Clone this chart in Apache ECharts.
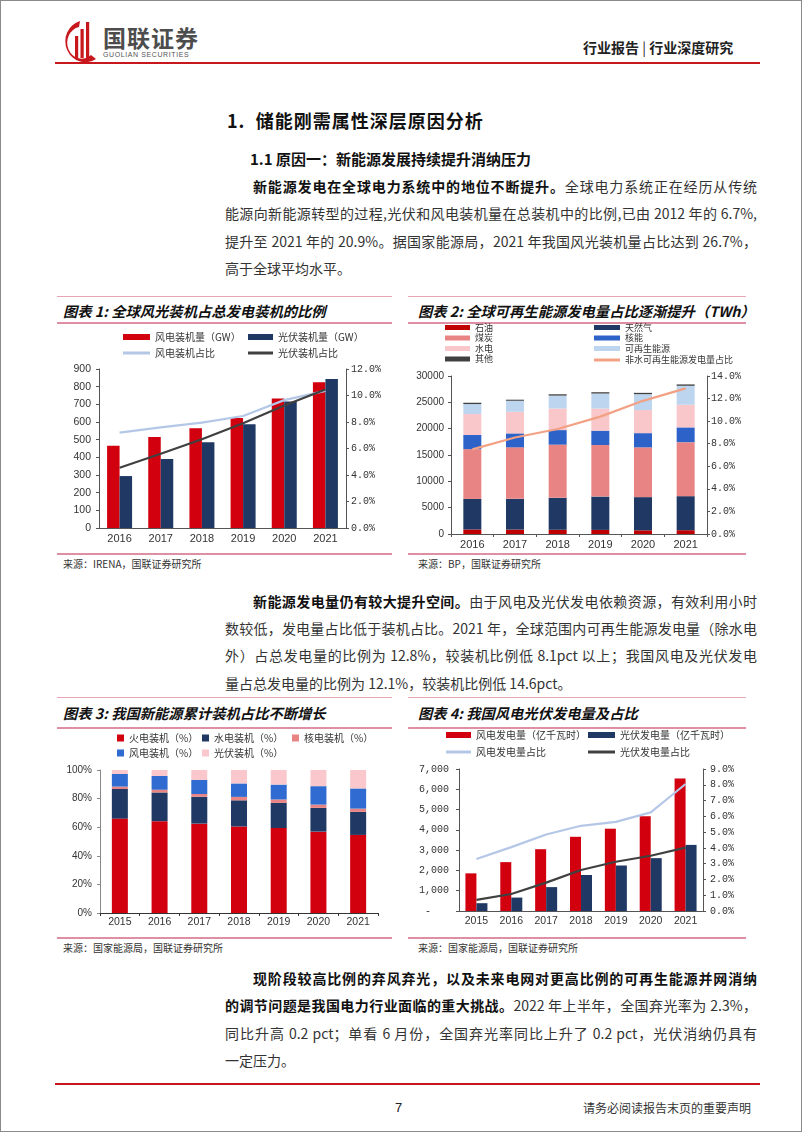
<!DOCTYPE html>
<html><head><meta charset="utf-8">
<script src="https://cdn.jsdelivr.net/npm/echarts@6/dist/echarts.min.js"></script>
<style>
body{margin:0;background:#fff;}
#page{position:relative;width:802px;height:1133px;overflow:hidden;font-family:"Noto Sans CJK SC",sans-serif;color:#333;background:#fff;}
.a{position:absolute;white-space:nowrap;}
.jl{position:absolute;left:225px;width:532px;height:28px;line-height:28px;font-size:14px;text-align:justify;text-align-last:justify;white-space:nowrap;color:#333;}
.jl.ind{left:253px;width:504px;}
.jl.last{text-align:left;text-align-last:left;}
.jl b{color:#111;font-weight:700;}
.ttl{position:absolute;font-size:14.3px;font-weight:700;font-style:italic;color:#111;white-space:nowrap;line-height:20px;}
.pl{position:absolute;height:0;border-top:1px solid #E7A6B6;}
.pl2{position:absolute;height:0;border-top:2px solid #DE8FA3;}
.src{position:absolute;font-size:10px;color:#333;white-space:nowrap;line-height:14px;}
.chart{position:absolute;}
</style></head>
<body><div id="page">
<div class="a" style="left:0;top:0;width:800px;height:1130px;border:1px solid #8a8a8a;"></div>

<!-- header -->
<svg class="a" style="left:58px;top:18px" width="42" height="46" viewBox="0 0 42 46">
  <path d="M22 3 A20 21 0 1 0 38 41 L33 37 A14.5 16 0 1 1 21 9 Z" fill="#C8161D"/>
  <rect x="17" y="18" width="3.2" height="22" fill="#C8161D"/>
  <rect x="22.5" y="11" width="3.2" height="29" fill="#C8161D"/>
  <rect x="28" y="4" width="3.2" height="36" fill="#C8161D"/>
</svg>
<div class="a" style="left:103px;top:24px;font-size:23px;font-weight:700;color:#4d4d4d;letter-spacing:1px;line-height:26px;">国联证券</div>
<div class="a" style="left:103px;top:51px;font-size:7px;color:#555;letter-spacing:0.6px;line-height:8px;font-family:'Liberation Sans',Arial,sans-serif;">GUOLIAN SECURITIES</div>
<div class="a" style="left:583px;top:38px;font-size:14px;font-weight:700;color:#222;line-height:18px;">行业报告 <span style="font-weight:400;">|</span> 行业深度研究</div>
<div class="a" style="left:55px;top:62px;width:705px;height:0;border-top:2px solid #C8161D;"></div>

<!-- headings -->
<div class="a" style="left:227px;top:108px;font-size:18px;font-weight:700;color:#111;line-height:24px;letter-spacing:1px;">1.&nbsp; 储能刚需属性深层原因分析</div>
<div class="a" style="left:250px;top:149px;font-size:15px;font-weight:700;color:#111;line-height:20px;">1.1 原因一：新能源发展持续提升消纳压力</div>

<!-- paragraph 1 -->
<div class="jl ind" style="top:172px"><b>新能源发电在全球电力系统中的地位不断提升。</b>全球电力系统正在经历从传统</div>
<div class="jl" style="top:199px">能源向新能源转型的过程,光伏和风电装机量在总装机中的比例,已由 2012 年的 6.7%,</div>
<div class="jl" style="top:227px">提升至 2021 年的 20.9%。据国家能源局，2021 年我国风光装机量占比达到 26.7%，</div>
<div class="jl last" style="top:254px">高于全球平均水平。</div>

<!-- chart 1 frame -->
<div class="pl" style="left:57px;top:296px;width:335px;"></div>
<div class="ttl" style="left:63px;top:301px;">图表 1: 全球风光装机占总发电装机的比例</div>
<div class="pl2" style="left:57px;top:322px;width:335px;"></div>
<div class="pl2" style="left:57px;top:553px;width:335px;"></div>
<div class="src" style="left:63px;top:557px;">来源：IRENA，国联证券研究所</div>
<div id="c1" class="chart" style="left:40px;top:320px;width:352px;height:232px;"></div>

<!-- chart 2 frame -->
<div class="pl" style="left:408px;top:296px;width:338px;"></div>
<div class="ttl" style="left:418px;top:301px;">图表 2: 全球可再生能源发电量占比逐渐提升（TWh）</div>
<div class="pl2" style="left:408px;top:322px;width:338px;"></div>
<div class="pl2" style="left:408px;top:553px;width:338px;"></div>
<div class="src" style="left:418px;top:557px;">来源：BP，国联证券研究所</div>
<div id="c2" class="chart" style="left:405px;top:320px;width:352px;height:232px;"></div>

<!-- paragraph 2 -->
<div class="jl ind" style="top:587px"><b>新能源发电量仍有较大提升空间。</b>由于风电及光伏发电依赖资源，有效利用小时</div>
<div class="jl" style="top:614px">数较低，发电量占比低于装机占比。2021 年，全球范围内可再生能源发电量（除水电</div>
<div class="jl" style="top:641px">外）占总发电量的比例为 12.8%，较装机比例低 8.1pct 以上；我国风电及光伏发电</div>
<div class="jl last" style="top:669px">量占总发电量的比例为 12.1%，较装机比例低 14.6pct。</div>

<!-- chart 3 frame -->
<div class="pl" style="left:57px;top:697px;width:335px;"></div>
<div class="ttl" style="left:63px;top:703px;">图表 3: 我国新能源累计装机占比不断增长</div>
<div class="pl2" style="left:57px;top:727px;width:335px;"></div>
<div class="pl2" style="left:57px;top:937px;width:335px;"></div>
<div class="src" style="left:63px;top:941px;">来源：国家能源局，国联证券研究所</div>
<div id="c3" class="chart" style="left:40px;top:725px;width:352px;height:210px;"></div>

<!-- chart 4 frame -->
<div class="pl" style="left:408px;top:697px;width:338px;"></div>
<div class="ttl" style="left:418px;top:703px;">图表 4: 我国风电光伏发电量及占比</div>
<div class="pl2" style="left:408px;top:727px;width:338px;"></div>
<div class="pl2" style="left:408px;top:937px;width:338px;"></div>
<div class="src" style="left:418px;top:941px;">来源：国家能源局，国联证券研究所</div>
<div id="c4" class="chart" style="left:405px;top:725px;width:352px;height:210px;"></div>

<!-- paragraph 3 -->
<div class="jl ind" style="top:964px"><b>现阶段较高比例的弃风弃光，以及未来电网对更高比例的可再生能源并网消纳</b></div>
<div class="jl" style="top:991px"><b>的调节问题是我国电力行业面临的重大挑战。</b>2022 年上半年，全国弃光率为 2.3%，</div>
<div class="jl" style="top:1019px">同比升高 0.2 pct；单看 6 月份，全国弃光率同比上升了 0.2 pct，光伏消纳仍具有</div>
<div class="jl last" style="top:1046px">一定压力。</div>

<!-- footer -->
<div class="a" style="left:55px;top:1083px;width:705px;height:0;border-top:2px solid #C8161D;"></div>
<div class="a" style="left:395px;top:1099px;font-size:13px;color:#222;line-height:18px;font-family:'Liberation Sans',Arial,sans-serif;">7</div>
<div class="a" style="left:583px;top:1100px;font-size:12px;color:#333;line-height:16px;">请务必阅读报告末页的重要声明</div>
</div>

<script>
// ---------- data ----------
const c1Years = ['2016','2017','2018','2019','2020','2021'];
const c1Wind = [466, 515, 564, 622, 733, 825];
const c1Solar = [294, 390, 485, 587, 716, 843];
const c1WindShare = [7.2, 7.6, 7.95, 8.45, 9.65, 10.35];
const c1SolarShare = [4.55, 5.6, 6.7, 7.9, 9.25, 10.45];

const c2Years = ['2016','2017','2018','2019','2020','2021'];
const c2Oil = [860, 840, 800, 780, 700, 720];
const c2Gas = [5800, 5840, 6070, 6320, 6300, 6470];
const c2Coal = [9450, 9780, 10100, 9800, 9450, 10250];
const c2Nuclear = [2700, 2640, 2760, 2720, 2700, 2800];
const c2Hydro = [3960, 4100, 4100, 4200, 4380, 4300];
const c2Renew = [1900, 2100, 2450, 2850, 3020, 3600];
const c2Other = [250, 200, 250, 250, 250, 260];
const c2Share = [7.5, 8.55, 9.3, 10.4, 11.8, 12.9];

const c3Years = ['2015','2016','2017','2018','2019','2020','2021'];
const c3Thermal = [66.0, 64.2, 62.5, 60.5, 59.4, 56.9, 54.6];
const c3Hydro = [20.7, 20.1, 18.8, 18.3, 17.6, 16.6, 16.1];
const c3Nuclear = [1.7, 1.9, 1.9, 2.4, 2.4, 2.3, 2.3];
const c3Wind = [8.8, 9.6, 9.8, 9.4, 10.4, 12.9, 14.1];
const c3Solar = [2.8, 4.2, 7.0, 9.4, 10.2, 11.3, 12.9];

const c4Years = ['2015','2016','2017','2018','2019','2020','2021'];
const c4Wind = [1856, 2409, 3046, 3658, 4057, 4665, 6526];
const c4Solar = [385, 662, 1178, 1775, 2243, 2605, 3259];
const c4WindShare = [3.3, 4.05, 4.85, 5.4, 5.65, 6.25, 8.05];
const c4SolarShare = [0.7, 1.08, 1.8, 2.6, 3.12, 3.5, 4.02];

// ---------- style helpers ----------
const F = '"Liberation Sans", Arial, sans-serif';
const FM = '"Liberation Mono", "DejaVu Sans Mono", monospace';
const FC = '"Noto Sans CJK SC", sans-serif';
const RED = '#D2000F', NAVY = '#1F3864';
function leg(name, left, top, iw, ih, fs) {
  return {data:[{name:name, icon:'rect'}], left:left, top:top, itemWidth:iw, itemHeight:ih,
    padding:0, selectedMode:false, textStyle:{fontFamily:FC, fontSize:fs || 10, color:'#333'}};
}
const axLine = {show:true, lineStyle:{color:'#555', width:1}};
const pct1 = v => v.toFixed(1) + '%';

// ---------- chart 1 ----------
echarts.init(document.getElementById('c1')).setOption({
  animation:false,
  legend:[leg('风电装机量（GW）',83,12,27,6), leg('光伏装机量（GW）',208,12,25,6),
          leg('风电装机占比',83,28,27,3), leg('光伏装机占比',208,28,25,3)],
  grid:{left:59, top:49, width:247, height:159},
  xAxis:{type:'category', data:c1Years, axisLine:axLine, axisTick:{show:false},
    axisLabel:{fontFamily:F, fontSize:11, color:'#333', margin:5}},
  yAxis:[
    {type:'value', min:0, max:900, interval:100, splitLine:{show:false}, axisLine:axLine,
     axisTick:{show:true, length:3, lineStyle:{color:'#555'}}, axisLabel:{fontFamily:F, fontSize:10.5, color:'#333', margin:8}},
    {type:'value', min:0, max:12, interval:2, splitLine:{show:false}, axisLine:axLine,
     axisTick:{show:true, length:3, lineStyle:{color:'#555'}}, axisLabel:{fontFamily:FM, fontSize:10, color:'#333', margin:5, formatter:pct1}}
  ],
  series:[
    {name:'风电装机量（GW）', type:'bar', data:c1Wind, barWidth:12.5, barGap:'0%', itemStyle:{color:RED}},
    {name:'光伏装机量（GW）', type:'bar', data:c1Solar, barWidth:12.5, barGap:'0%', itemStyle:{color:NAVY}},
    {name:'风电装机占比', type:'line', yAxisIndex:1, data:c1WindShare, symbol:'none', lineStyle:{color:'#B4C7E7', width:2.2}, itemStyle:{color:'#B4C7E7'}},
    {name:'光伏装机占比', type:'line', yAxisIndex:1, data:c1SolarShare, symbol:'none', lineStyle:{color:'#404040', width:2.2}, itemStyle:{color:'#404040'}}
  ]
});

// ---------- chart 2 ----------
const c2Col = {oil:'#C00000', gas:NAVY, coal:'#E88584', nuc:'#2D62C8', hyd:'#F9C6C9', ren:'#BDD5EE', oth:'#404040', line:'#F2A184'};
function sb(name, data, color) { return {name:name, type:'bar', stack:'t', data:data, barWidth:18, itemStyle:{color:color}}; }
echarts.init(document.getElementById('c2')).setOption({
  animation:false,
  legend:[leg('石油',40,3,25,5,9), leg('煤炭',40,13.5,25,5,9), leg('水电',40,24,25,5,9), leg('其他',40,34.5,25,5,9),
          leg('天然气',189,3,26,5,9), leg('核能',189,13.5,26,5,9), leg('可再生能源',189,24,26,5,9), leg('非水可再生能源发电量占比',189,35.5,26,3,9)],
  grid:{left:46, top:56, width:256, height:158},
  xAxis:{type:'category', data:c2Years, axisLine:axLine, axisTick:{show:true, length:3, lineStyle:{color:'#555'}},
    axisLabel:{fontFamily:F, fontSize:11, color:'#333', margin:5}},
  yAxis:[
    {type:'value', min:0, max:30000, interval:5000, splitLine:{show:false}, axisLine:axLine,
     axisTick:{show:true, length:3, lineStyle:{color:'#555'}}, axisLabel:{fontFamily:F, fontSize:10, color:'#333', margin:7, formatter:v => String(v)}},
    {type:'value', min:0, max:14, interval:2, splitLine:{show:false}, axisLine:axLine,
     axisTick:{show:true, length:3, lineStyle:{color:'#555'}}, axisLabel:{fontFamily:FM, fontSize:10, color:'#333', margin:4, formatter:pct1}}
  ],
  series:[
    sb('石油', c2Oil, c2Col.oil), sb('天然气', c2Gas, c2Col.gas), sb('煤炭', c2Coal, c2Col.coal),
    sb('核能', c2Nuclear, c2Col.nuc), sb('水电', c2Hydro, c2Col.hyd), sb('可再生能源', c2Renew, c2Col.ren),
    sb('其他', c2Other, c2Col.oth),
    {name:'非水可再生能源发电量占比', type:'line', yAxisIndex:1, data:c2Share, symbol:'none', lineStyle:{color:c2Col.line, width:2.2}, itemStyle:{color:c2Col.line}}
  ]
});

// ---------- chart 3 ----------
function sb3(name, data, color) { return {name:name, type:'bar', stack:'t', data:data, barWidth:16, itemStyle:{color:color}}; }
echarts.init(document.getElementById('c3')).setOption({
  animation:false,
  legend:[leg('火电装机（%）',77,8,7,7), leg('水电装机（%）',162,8,7,7), leg('核电装机（%）',252,8,7,7),
          leg('风电装机（%）',77,23,7,7), leg('光伏装机（%）',162,23,7,7)],
  grid:{left:60, top:45, width:278, height:143},
  xAxis:{type:'category', data:c3Years, axisLine:{show:true, lineStyle:{color:'#333'}}, axisTick:{show:true, length:3, lineStyle:{color:'#333'}},
    axisLabel:{fontFamily:F, fontSize:10.5, color:'#333', margin:4}},
  yAxis:{type:'value', min:0, max:100, interval:20, splitLine:{show:false}, axisLine:{show:true, lineStyle:{color:'#888'}},
    axisTick:{show:true, length:3, lineStyle:{color:'#888'}}, axisLabel:{fontFamily:F, fontSize:10, color:'#333', margin:8, formatter:'{value}%'}},
  series:[
    sb3('火电装机（%）', c3Thermal, RED), sb3('水电装机（%）', c3Hydro, NAVY), sb3('核电装机（%）', c3Nuclear, '#E88584'),
    sb3('风电装机（%）', c3Wind, '#2F6BD0'), sb3('光伏装机（%）', c3Solar, '#FAC8CC')
  ]
});

// ---------- chart 4 ----------
echarts.init(document.getElementById('c4')).setOption({
  animation:false,
  legend:[leg('风电发电量（亿千瓦时）',41,5,25,6), leg('光伏发电量（亿千瓦时）',183,5,27,6),
          leg('风电发电量占比',41,22,25,3), leg('光伏发电量占比',183,22,27,3)],
  grid:{left:54, top:44, width:244, height:142},
  xAxis:{type:'category', data:c4Years, axisLine:axLine, axisTick:{show:false},
    axisLabel:{fontFamily:F, fontSize:10.5, color:'#333', margin:5}},
  yAxis:[
    {type:'value', min:0, max:7000, interval:1000, splitLine:{show:false}, axisLine:axLine,
     axisTick:{show:true, length:3, lineStyle:{color:'#555'}},
     axisLabel:{fontFamily:FM, fontSize:10, color:'#333', margin:10, formatter:v => v === 0 ? '-   ' : v.toLocaleString('en-US')}},
    {type:'value', min:0, max:9, interval:1, splitLine:{show:false}, axisLine:axLine,
     axisTick:{show:true, length:3, lineStyle:{color:'#555'}}, axisLabel:{fontFamily:FM, fontSize:10, color:'#333', margin:7, formatter:pct1}}
  ],
  series:[
    {name:'风电发电量（亿千瓦时）', type:'bar', data:c4Wind, barWidth:11, barGap:'0%', itemStyle:{color:RED}},
    {name:'光伏发电量（亿千瓦时）', type:'bar', data:c4Solar, barWidth:11, barGap:'0%', itemStyle:{color:NAVY}},
    {name:'风电发电量占比', type:'line', yAxisIndex:1, data:c4WindShare, symbol:'none', lineStyle:{color:'#B4C7E7', width:2.2}, itemStyle:{color:'#B4C7E7'}},
    {name:'光伏发电量占比', type:'line', yAxisIndex:1, data:c4SolarShare, symbol:'none', lineStyle:{color:'#404040', width:2.2}, itemStyle:{color:'#404040'}}
  ]
});
</script>
</body></html>
